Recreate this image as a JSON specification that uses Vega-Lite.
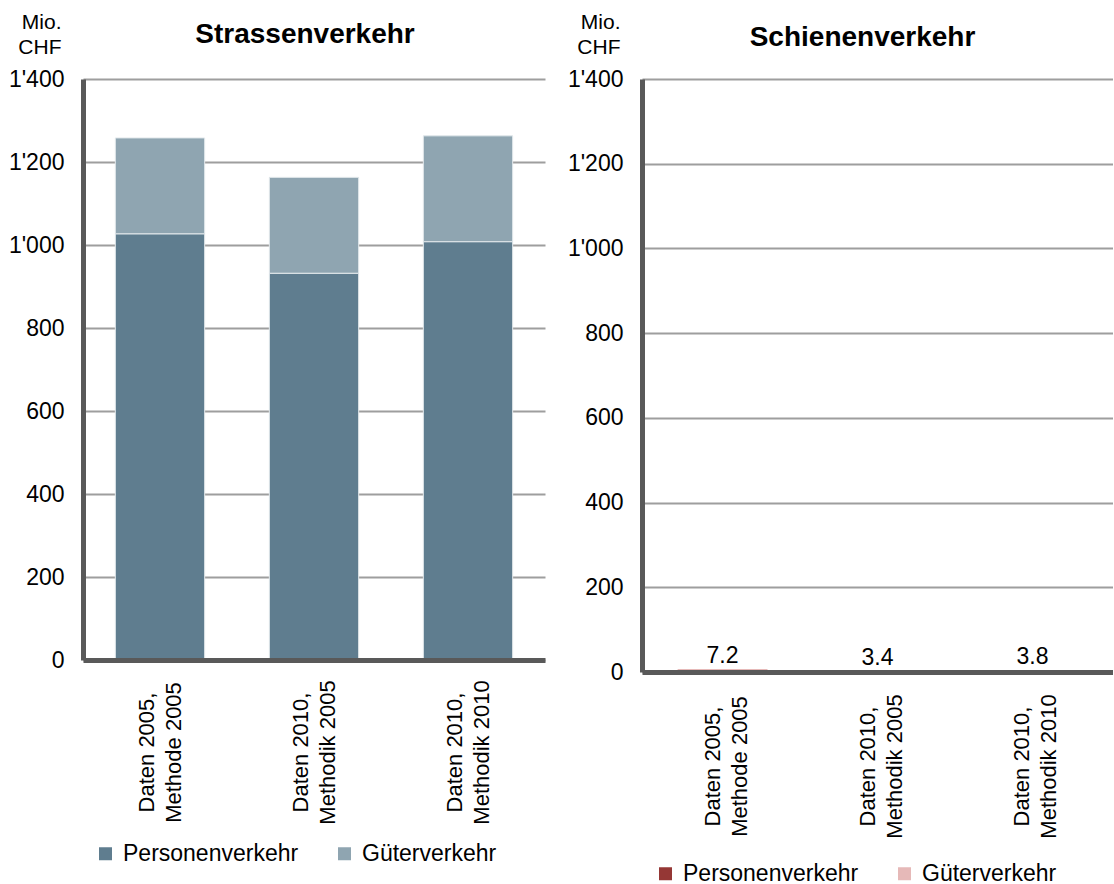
{
  "$schema": "https://vega.github.io/schema/vega-lite/v6.json",
  "background": "white",
  "padding": {"left": 8, "top": 11, "right": 0, "bottom": 0},
  "spacing": 22,
  "config": {
    "font": "Liberation Sans",
    "view": {"stroke": null},
    "axis": {"labelFont": "Liberation Sans", "titleFont": "Liberation Sans"},
    "legend": {"labelFont": "Liberation Sans"},
    "title": {"font": "Liberation Sans"}
  },
  "datasets": {
    "strasse": [
      {"variante": "Daten 2005, Methode 2005", "typ": "Personenverkehr", "wert": 1027},
      {"variante": "Daten 2005, Methode 2005", "typ": "Güterverkehr", "wert": 231},
      {"variante": "Daten 2010, Methodik 2005", "typ": "Personenverkehr", "wert": 932},
      {"variante": "Daten 2010, Methodik 2005", "typ": "Güterverkehr", "wert": 231},
      {"variante": "Daten 2010, Methodik 2010", "typ": "Personenverkehr", "wert": 1008},
      {"variante": "Daten 2010, Methodik 2010", "typ": "Güterverkehr", "wert": 255}
    ],
    "schiene": [
      {"variante": "Daten 2005, Methode 2005", "typ": "Personenverkehr", "wert": 4.5},
      {"variante": "Daten 2005, Methode 2005", "typ": "Güterverkehr", "wert": 2.7},
      {"variante": "Daten 2010, Methodik 2005", "typ": "Personenverkehr", "wert": 2.1},
      {"variante": "Daten 2010, Methodik 2005", "typ": "Güterverkehr", "wert": 1.3},
      {"variante": "Daten 2010, Methodik 2010", "typ": "Personenverkehr", "wert": 2.3},
      {"variante": "Daten 2010, Methodik 2010", "typ": "Güterverkehr", "wert": 1.5}
    ]
  },
  "resolve": {
    "scale": {"color": "independent", "x": "independent", "y": "independent"},
    "legend": {"color": "independent"}
  },
  "hconcat": [
    {
      "width": 462,
      "height": 581,
      "title": {"text": "Strassenverkehr", "fontSize": 28, "fontWeight": "bold", "color": "black", "frame": "group", "anchor": "middle", "baseline": "alphabetic", "offset": -60, "dx": -9},
      "data": {"name": "strasse"},
      "mark": {"type": "bar", "stroke": "#e3e9ec", "strokeWidth": 1},
      "encoding": {
        "x": {
          "field": "variante", "type": "nominal", "sort": null,
          "scale": {"paddingInner": 0.42, "paddingOuter": 0.21},
          "axis": {"title": null, "labelAngle": -90, "labelAlign": "center", "labelBaseline": "middle", "labelPadding": 92, "labelOffset": -13, "labelFontSize": 22, "labelColor": "black", "labelLineHeight": 27, "labelLimit": 0, "labelExpr": "split(replace(datum.label, ', ', ',|'), '|')", "ticks": false, "tickSize": 0, "domainColor": "#595959", "domainWidth": 5, "zindex": 1}
        },
        "y": {
          "field": "wert", "type": "quantitative",
          "scale": {"domain": [0, 1400], "nice": false},
          "axis": {"title": ["Mio.", "CHF"], "titleAngle": 0, "titleAlign": "right", "titleBaseline": "alphabetic", "titleX": -22, "titleY": -51, "titleFontSize": 21, "titleFontWeight": "normal", "titleColor": "black", "titleLineHeight": 25, "values": [0, 200, 400, 600, 800, 1000, 1200, 1400], "labelExpr": "replace(format(datum.value, ','), ',', \"'\")", "labelFontSize": 23, "labelColor": "black", "labelPadding": 19, "labelBaseline": "middle", "ticks": false, "tickSize": 0, "domainColor": "#595959", "domainWidth": 5, "grid": true, "gridColor": "#9e9e9e", "gridWidth": 2, "zindex": 0}
        },
        "color": {
          "field": "typ", "type": "nominal",
          "scale": {"domain": ["Personenverkehr", "Güterverkehr"], "range": ["#5f7d8f", "#8fa5b1"]},
          "legend": {"title": null, "orient": "none", "legendX": 11, "legendY": 763, "direction": "horizontal", "symbolType": "square", "symbolSize": 169, "symbolStrokeWidth": 0, "labelFontSize": 23, "labelColor": "black", "columnPadding": 34, "labelOffset": 6, "padding": 0, "labelLimit": 0}
        },
        "order": {"field": "typ", "sort": "descending"}
      }
    },
    {
      "width": 471,
      "height": 593,
      "title": {"text": "Schienenverkehr", "fontSize": 28, "fontWeight": "bold", "color": "black", "frame": "group", "anchor": "middle", "baseline": "alphabetic", "offset": -63, "dx": -15},
      "data": {"name": "schiene"},
      "layer": [
        {
          "mark": {"type": "bar"},
          "encoding": {
            "x": {
              "field": "variante", "type": "nominal", "sort": null,
              "scale": {"paddingInner": 0.42, "paddingOuter": 0.23},
              "axis": {"title": null, "labelAngle": -90, "labelAlign": "center", "labelBaseline": "middle", "labelPadding": 94, "labelOffset": -10, "labelFontSize": 22, "labelColor": "black", "labelLineHeight": 27, "labelLimit": 0, "labelExpr": "split(replace(datum.label, ', ', ',|'), '|')", "ticks": false, "tickSize": 0, "domainColor": "#595959", "domainWidth": 5, "zindex": 1}
            },
            "y": {
              "field": "wert", "type": "quantitative",
              "scale": {"domain": [0, 1400], "nice": false},
              "axis": {"title": ["Mio.", "CHF"], "titleAngle": 0, "titleAlign": "right", "titleBaseline": "alphabetic", "titleX": -22, "titleY": -51, "titleFontSize": 21, "titleFontWeight": "normal", "titleColor": "black", "titleLineHeight": 25, "values": [0, 200, 400, 600, 800, 1000, 1200, 1400], "labelExpr": "replace(format(datum.value, ','), ',', \"'\")", "labelFontSize": 23, "labelColor": "black", "labelPadding": 19, "labelBaseline": "middle", "ticks": false, "tickSize": 0, "domainColor": "#595959", "domainWidth": 5, "grid": true, "gridColor": "#9e9e9e", "gridWidth": 2, "zindex": 0}
            },
            "color": {
              "field": "typ", "type": "nominal",
              "scale": {"domain": ["Personenverkehr", "Güterverkehr"], "range": ["#953735", "#e6b9b8"]},
              "legend": {"title": null, "orient": "none", "legendX": 12, "legendY": 783, "direction": "horizontal", "symbolType": "square", "symbolSize": 169, "symbolStrokeWidth": 0, "labelFontSize": 23, "labelColor": "black", "columnPadding": 34, "labelOffset": 6, "padding": 0, "labelLimit": 0}
            },
            "order": {"field": "typ", "sort": "descending"}
          }
        },
        {
          "mark": {"type": "text", "baseline": "alphabetic", "dy": -6, "fontSize": 23, "color": "black"},
          "encoding": {
            "x": {"field": "variante", "type": "nominal", "sort": null},
            "y": {"aggregate": "sum", "field": "wert", "type": "quantitative"},
            "text": {"aggregate": "sum", "field": "wert", "type": "quantitative", "format": ".1f"}
          }
        }
      ]
    }
  ]
}
